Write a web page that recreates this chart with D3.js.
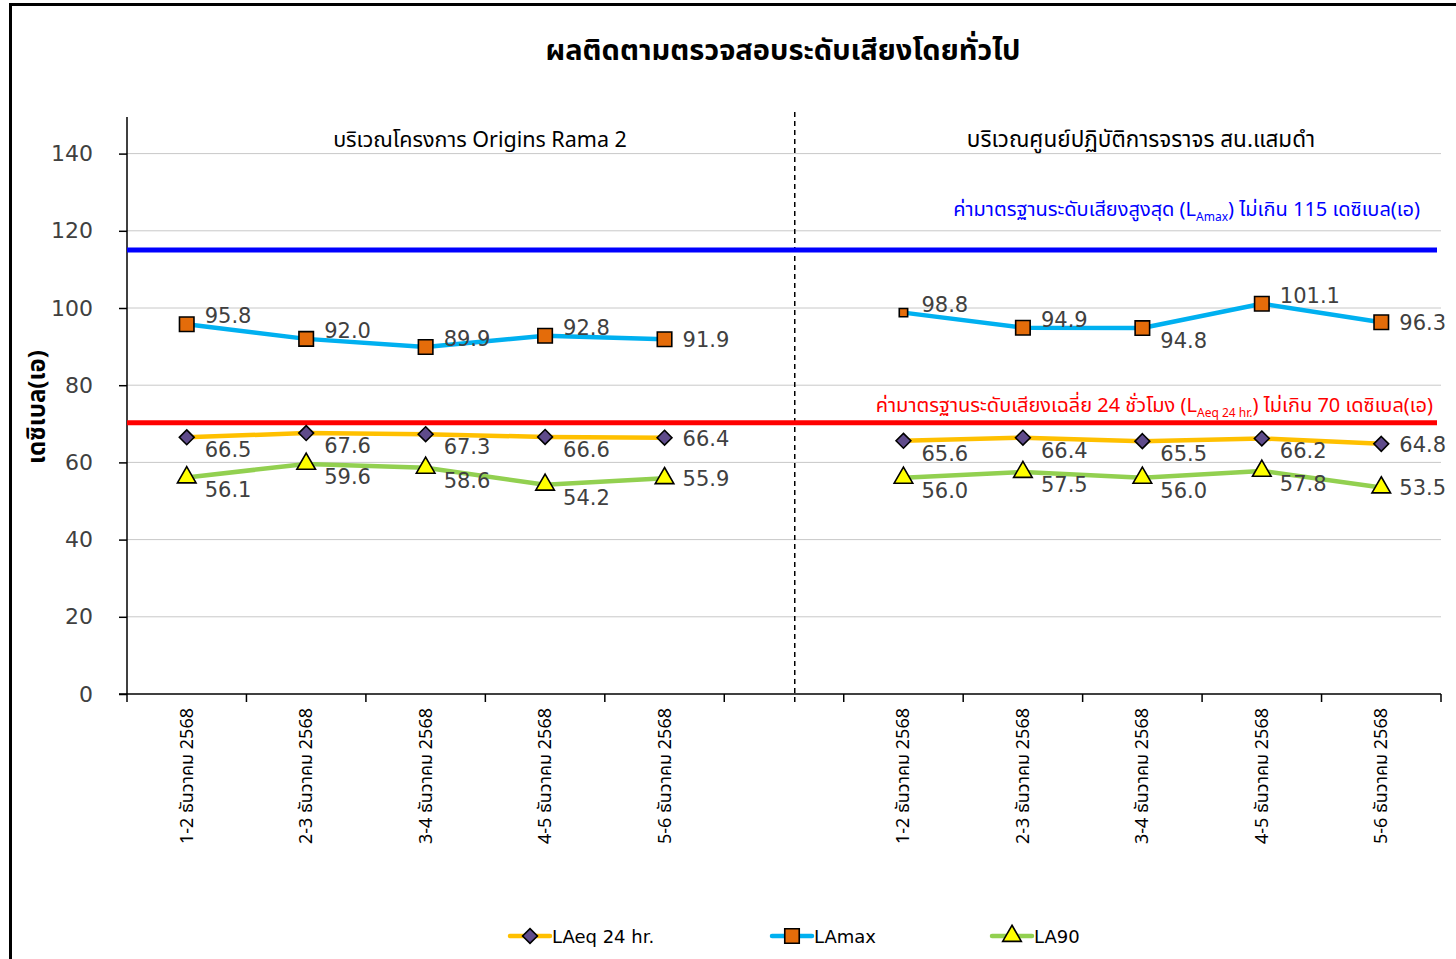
<!DOCTYPE html>
<html>
<head>
<meta charset="utf-8">
<script src="https://cdn.jsdelivr.net/npm/d3@7"></script>
<style>
  html, body { margin: 0; padding: 0; background: #fff; }
  svg { display: block; }
  text { font-family: "Leelawadee UI", Tahoma, "Noto Sans Thai", "Noto Sans", "DejaVu Sans", sans-serif; }
</style>
</head>
<body>
<svg id="chart" width="1456" height="959"></svg>
<script>
// ---- data ----
const title = "ผลติดตามตรวจสอบระดับเสียงโดยทั่วไป";
const siteNames = ["บริเวณโครงการ Origins Rama 2", "บริเวณศูนย์ปฏิบัติการจราจร สน.แสมดำ"];
const dateLabels = ["1-2 ธันวาคม 2568", "2-3 ธันวาคม 2568", "3-4 ธันวาคม 2568", "4-5 ธันวาคม 2568", "5-6 ธันวาคม 2568"];
// 5 dates for site 1, an empty slot, 5 dates for site 2
const categories = [...dateLabels, "", ...dateLabels];

const laeqSite1 = [66.5, 67.6, 67.3, 66.6, 66.4];
const laeqSite2 = [65.6, 66.4, 65.5, 66.2, 64.8];
const lamaxSite1 = [95.8, 92.0, 89.9, 92.8, 91.9];
const lamaxSite2 = [98.8, 94.9, 94.8, 101.1, 96.3];
const la90Site1 = [56.1, 59.6, 58.6, 54.2, 55.9];
const la90Site2 = [56.0, 57.5, 56.0, 57.8, 53.5];

const yTicks = [0, 20, 40, 60, 80, 100, 120, 140];
const lamaxLimit = 115;
const laeqLimit = 70;

// ---- layout ----
const svg = d3.select("#chart");
const plot = { left: 127, right: 1441, top: 115, bottom: 694 };
const labelColor = "#404040";
const numFont = "'DejaVu Sans', sans-serif";

const x = d3.scaleBand()
  .domain(d3.range(categories.length))
  .range([plot.left, plot.right])
  .paddingInner(0).paddingOuter(0);
const cx = i => x(i) + x.bandwidth() / 2;

const y = d3.scaleLinear().domain([0, 150]).range([plot.bottom, plot.top]);

// outer frame
svg.append("path")
  .attr("d", `M10.5,961 L10.5,4.5 L1460,4.5`)
  .attr("fill", "none").attr("stroke", "#000").attr("stroke-width", 3);

// gridlines
svg.append("g").selectAll("line").data(yTicks.filter(t => t > 0)).join("line")
  .attr("x1", plot.left).attr("x2", plot.right)
  .attr("y1", d => y(d)).attr("y2", d => y(d))
  .attr("stroke", "#c8c8c8").attr("stroke-width", 1);

// y axis
const yAxis = svg.append("g")
  .attr("transform", `translate(${plot.left},0)`)
  .call(d3.axisLeft(y).tickValues(yTicks).tickSize(8).tickPadding(26).tickSizeOuter(0));
yAxis.select(".domain").attr("stroke", "#000").attr("stroke-width", 1.5)
  .attr("d", `M0,${plot.top + 2}V${plot.bottom}`);
yAxis.selectAll(".tick line").attr("stroke", "#000").attr("stroke-width", 1.5);
yAxis.selectAll(".tick text")
  .attr("fill", labelColor).attr("font-size", 22)
  .style("font-family", numFont);

// x axis: ticks at band boundaries
const xAxisG = svg.append("g").attr("transform", `translate(0,${plot.bottom})`);
xAxisG.append("line")
  .attr("x1", plot.left - 8).attr("x2", plot.right)
  .attr("stroke", "#000").attr("stroke-width", 1.5);
const boundaries = d3.range(categories.length + 1).map(i => i === categories.length ? plot.right : x(i));
xAxisG.selectAll("line.tk").data(boundaries).join("line").attr("class", "tk")
  .attr("x1", d => d).attr("x2", d => d).attr("y1", 0).attr("y2", 8)
  .attr("stroke", "#000").attr("stroke-width", 1.5);
xAxisG.selectAll("text").data(categories.map((c, i) => ({ c, i })).filter(d => d.c)).join("text")
  .attr("transform", d => `translate(${cx(d.i) + 6},14) rotate(-90)`)
  .attr("text-anchor", "end")
  .attr("font-size", 18).attr("fill", "#000")
  .text(d => d.c);

// site divider (dashed)
const dividerX = plot.left + x.bandwidth() * 5.59;
svg.append("line")
  .attr("x1", dividerX).attr("x2", dividerX)
  .attr("y1", 112).attr("y2", plot.bottom + 8)
  .attr("stroke", "#000").attr("stroke-width", 1.5).attr("stroke-dasharray", "5,4");

// standard limit lines
svg.append("line")
  .attr("x1", plot.left).attr("x2", 1437)
  .attr("y1", y(lamaxLimit)).attr("y2", y(lamaxLimit))
  .attr("stroke", "#0000ff").attr("stroke-width", 5);
svg.append("line")
  .attr("x1", plot.left).attr("x2", 1437)
  .attr("y1", y(laeqLimit) - 1).attr("y2", y(laeqLimit) - 1)
  .attr("stroke", "#ff0000").attr("stroke-width", 5);

// limit captions
const capBlue = svg.append("text")
  .attr("x", 1420).attr("y", y(lamaxLimit) - 34)
  .attr("text-anchor", "end").attr("font-size", 20).attr("fill", "#0000ff");
capBlue.append("tspan").text("ค่ามาตรฐานระดับเสียงสูงสุด (L");
capBlue.append("tspan").attr("font-size", 12).attr("dy", 5).text("Amax");
capBlue.append("tspan").attr("dy", -5).text(") ไม่เกิน " + lamaxLimit + " เดซิเบล(เอ)");

const capRed = svg.append("text")
  .attr("x", 1433).attr("y", y(laeqLimit) - 12)
  .attr("text-anchor", "end").attr("font-size", 20).attr("fill", "#ff0000");
capRed.append("tspan").text("ค่ามาตรฐานระดับเสียงเฉลี่ย 24 ชั่วโมง (L");
capRed.append("tspan").attr("font-size", 12).attr("dy", 5).text("Aeq 24 hr.");
capRed.append("tspan").attr("dy", -5).text(") ไม่เกิน " + laeqLimit + " เดซิเบล(เอ)");

// title and site headings
svg.append("text").attr("x", 783).attr("y", 60).attr("text-anchor", "middle")
  .attr("font-size", 29).attr("font-weight", "bold").attr("fill", "#000").text(title);
svg.append("text").attr("x", 480).attr("y", 147).attr("text-anchor", "middle")
  .attr("font-size", 21.5).attr("fill", "#000").text(siteNames[0]);
svg.append("text").attr("x", 1141).attr("y", 147).attr("text-anchor", "middle")
  .attr("font-size", 22.5).attr("fill", "#000").text(siteNames[1]);

// y axis title
svg.append("text")
  .attr("transform", `translate(45,407) rotate(-90)`)
  .attr("text-anchor", "middle").attr("font-size", 24).attr("font-weight", "bold")
  .attr("fill", "#000").text("เดซิเบล(เอ)");

// ---- series ----
// diamond = square rotated 45 degrees
const diamond = {
  draw(ctx, size) {
    const r = Math.sqrt(size / 2);
    ctx.moveTo(0, -r); ctx.lineTo(r, 0); ctx.lineTo(0, r); ctx.lineTo(-r, 0); ctx.closePath();
  }
};
const series = [
  { name: "LAmax", groups: [lamaxSite1, lamaxSite2], line: "#00b0f0", fill: "#e46c0a", symbol: d3.symbolSquare, size: 210, label: "above" },
  { name: "LAeq 24 hr.", groups: [laeqSite1, laeqSite2], line: "#ffc000", fill: "#5f4b8b", symbol: diamond, size: 110, label: "below" },
  { name: "LA90", groups: [la90Site1, la90Site2], line: "#92d050", fill: "#ffff00", symbol: d3.symbolTriangle, size: 150, label: "below" }
];
// per-point label side overrides (series name, site, index)
const labelOverride = { "LAmax|1|2": "below" };

const line = d3.line().x(d => d.px).y(d => d.py);

series.forEach(s => {
  s.groups.forEach((vals, g) => {
    const offset = g === 0 ? 0 : 6;
    const pts = vals.map((v, i) => ({ v, i, px: cx(i + offset), py: y(v) }));
    svg.append("path").datum(pts)
      .attr("d", line).attr("fill", "none")
      .attr("stroke", s.line).attr("stroke-width", 4.5).attr("stroke-linejoin", "round");
    svg.append("g").selectAll("path").data(pts).join("path")
      .attr("transform", d => `translate(${d.px},${d.py})`)
      .attr("d", d => d3.symbol(s.symbol, (s.name === "LAmax" && g === 1 && d.i === 0) ? 70 : s.size)())
      .attr("fill", s.fill).attr("stroke", "#000").attr("stroke-width", 1.6);
    svg.append("g").selectAll("text").data(pts).join("text")
      .attr("font-size", 21).attr("fill", labelColor)
      .style("font-family", numFont)
      .each(function (d) {
        const last = d.i === vals.length - 1;
        const side = labelOverride[`${s.name}|${g}|${d.i}`] || s.label;
        const t = d3.select(this);
        if (last) {
          t.attr("x", d.px + 18).attr("y", d.py + 8);
        } else if (side === "above") {
          t.attr("x", d.px + 18).attr("y", d.py - 1);
        } else {
          t.attr("x", d.px + 18).attr("y", d.py + 20);
        }
        t.text(d.v.toFixed(1));
      });
  });
});

// ---- legend ----
const legendItems = [
  { s: series[1], x: 510 },
  { s: series[0], x: 772 },
  { s: series[2], x: 992 }
];
const legend = svg.append("g");
legendItems.forEach(({ s, x: lx }) => {
  const ly = 936;
  legend.append("line").attr("x1", lx).attr("x2", lx + 40).attr("y1", ly).attr("y2", ly)
    .attr("stroke", s.line).attr("stroke-width", 4.5).attr("stroke-linecap", "round");
  legend.append("path").attr("transform", `translate(${lx + 20},${ly})`)
    .attr("d", d3.symbol(s.symbol, s.size)())
    .attr("fill", s.fill).attr("stroke", "#000").attr("stroke-width", 1.6);
  legend.append("text").attr("x", lx + 42).attr("y", ly + 7)
    .attr("font-size", 18).attr("fill", "#000")
    .style("font-family", numFont)
    .text(s.name);
});
</script>
</body>
</html>
